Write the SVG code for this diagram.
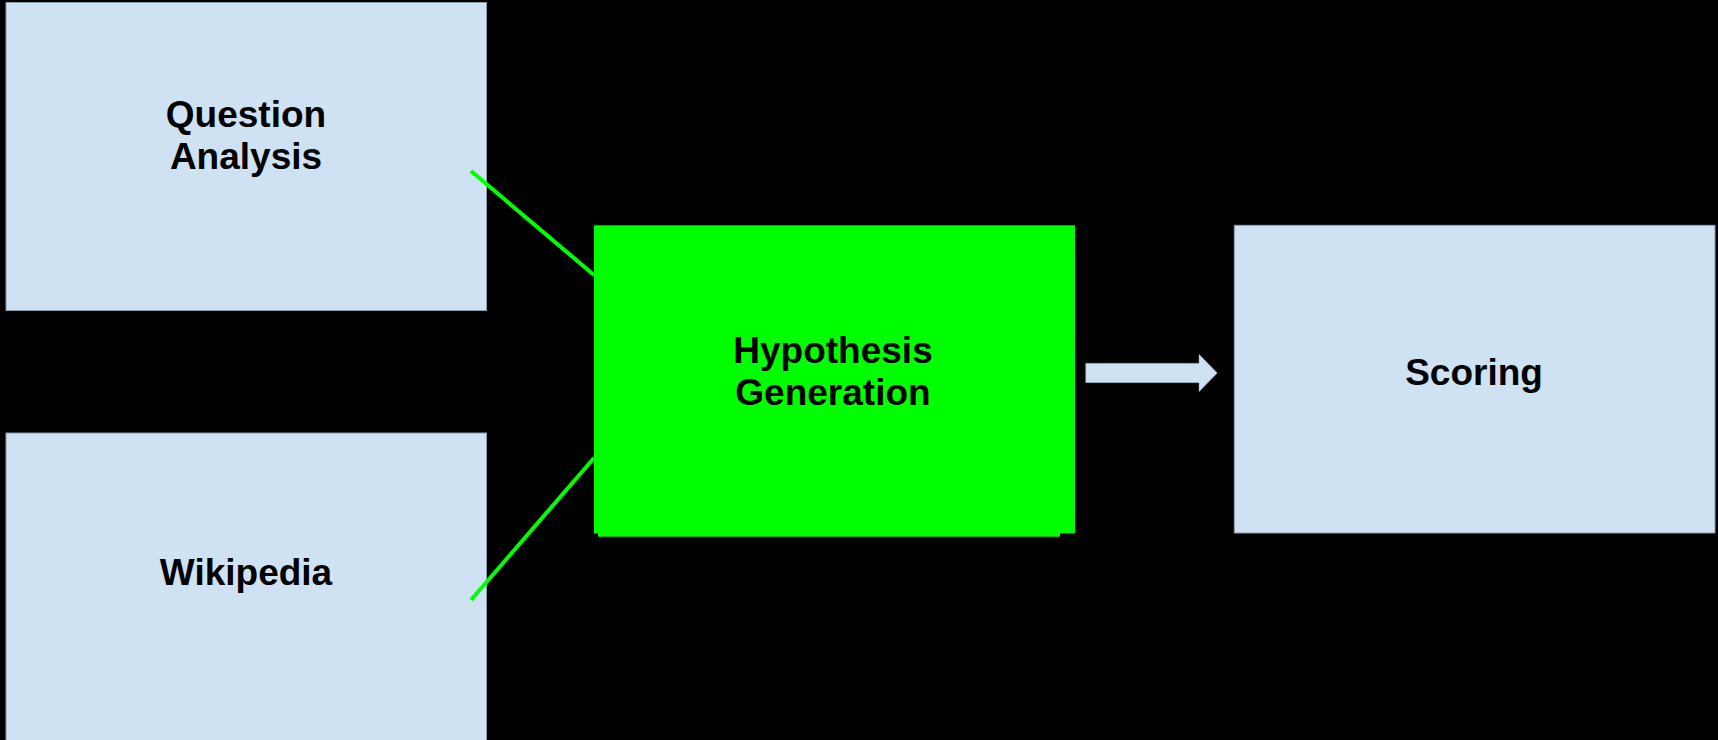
<svg xmlns="http://www.w3.org/2000/svg" width="1718" height="740" viewBox="0 0 1718 740">
<style>
.box{fill:#cfe2f3;stroke:#8a9bb0;stroke-width:1}
.lbl{font-family:"Liberation Sans",Arial,sans-serif;font-weight:bold;font-size:37px;fill:#000;text-anchor:middle}
.link{stroke:#00ff00;stroke-width:4;fill:none}
</style>
<rect x="0" y="0" width="1718" height="740" fill="#000"/>
<g id="question-analysis">
<rect class="box" x="6" y="2.5" width="480.5" height="308"/>
<text class="lbl" x="246" y="126.5">Question</text>
<text class="lbl" x="246" y="168.5">Analysis</text>
</g>
<g id="wikipedia">
<rect class="box" x="6" y="433" width="480.5" height="310"/>
<text class="lbl" x="246" y="585">Wikipedia</text>
</g>
<g id="hypothesis-generation">
<rect x="594" y="225.3" width="481" height="308" fill="#00ff00"/>
<rect x="598" y="530" width="462" height="6.7" fill="#00ff00"/>
<text class="lbl" x="833" y="363.3">Hypothesis</text>
<text class="lbl" x="833" y="405">Generation</text>
</g>
<g id="scoring">
<rect class="box" x="1234.3" y="225.3" width="480.7" height="307.7"/>
<text class="lbl" x="1474" y="385">Scoring</text>
</g>
<g id="connectors">
<line class="link" x1="471" y1="171" x2="594" y2="275"/>
<line class="link" x1="471" y1="600" x2="594" y2="458"/>
<polygon points="1085.7,363.3 1199,363.3 1199,354.3 1217.3,373 1199,391.7 1199,382.7 1085.7,382.7" fill="#cfe2f3" stroke="#8a9bb0" stroke-width="0.5"/>
</g>
</svg>
